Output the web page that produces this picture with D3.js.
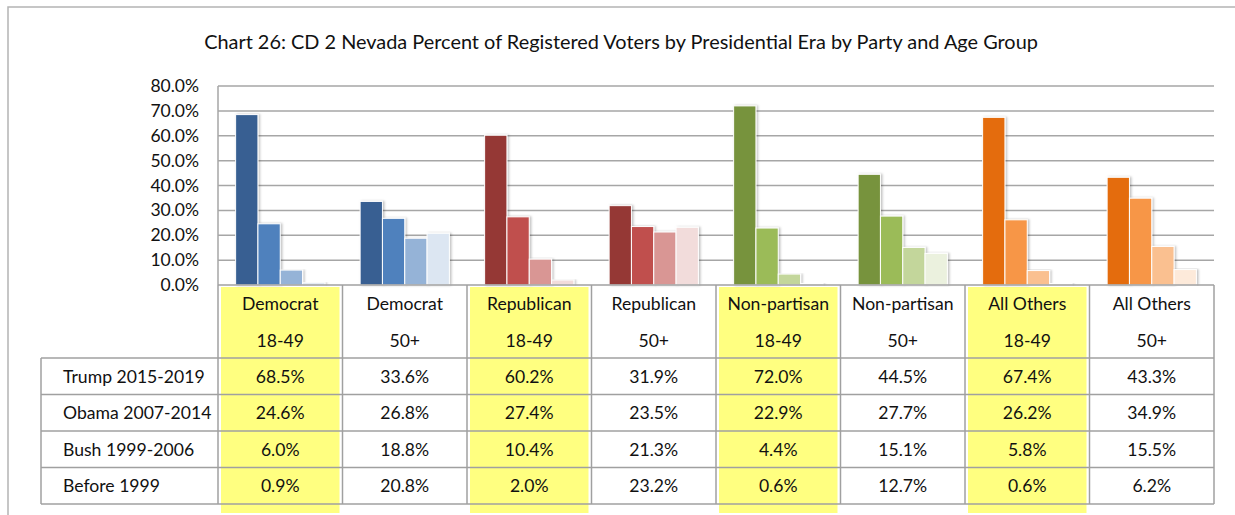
<!DOCTYPE html>
<html>
<head>
<meta charset="utf-8">
<script src="https://cdn.jsdelivr.net/npm/d3@7"></script>
<style>
  body { margin: 0; background: #fff; }
  text { font-family: Lato, "Noto Sans", sans-serif; fill: #111; }
</style>
</head>
<body>
<script>
// data
const parties = ['Democrat', 'Democrat', 'Republican', 'Republican', 'Non-partisan', 'Non-partisan', 'All Others', 'All Others'];
const ageGroups = ['18-49', '50+', '18-49', '50+', '18-49', '50+', '18-49', '50+'];
const eras = ['Trump 2015-2019', 'Obama 2007-2014', 'Bush 1999-2006', 'Before 1999'];
const trump = [68.5, 33.6, 60.2, 31.9, 72.0, 44.5, 67.4, 43.3];
const obama = [24.6, 26.8, 27.4, 23.5, 22.9, 27.7, 26.2, 34.9];
const bush = [6.0, 18.8, 10.4, 21.3, 4.4, 15.1, 5.8, 15.5];
const before1999 = [0.9, 20.8, 2.0, 23.2, 0.6, 12.7, 0.6, 6.2];
const yTicks = [0, 10, 20, 30, 40, 50, 60, 70, 80];

const title = 'Chart 26: CD 2 Nevada Percent of Registered Voters by Presidential Era by Party and Age Group';

// shades per party, darkest = Trump era
const partyColors = {
    'Democrat': ['#375F92', '#4F81BD', '#95B3D7', '#DCE6F2'],
    'Republican': ['#953735', '#C0504D', '#D99694', '#F2DCDB'],
    'Non-partisan': ['#77933C', '#9BBB59', '#C3D69B', '#EBF1DE'],
    'All Others': ['#E46C0A', '#F79646', '#FAC090', '#FDEADA']
};

let seriesValues = [trump, obama, bush, before1999];
let columns = parties.map((p, i) => i);

let width = 1235, height = 515;
let plot = {left: 218, right: 1214, top: 86, bottom: 285};
let table = {left: 41, headTop: 285, rowTop: 358, rowH: 36.5};
let cellFont = '17.6px';

let svg = d3.select('body').append('svg')
    .attr('width', width)
    .attr('height', height);

let defs = svg.append('defs');
let shadow = defs.append('filter').attr('id', 'shadow')
    .attr('x', '-20%').attr('y', '-5%').attr('width', '150%').attr('height', '110%');
shadow.append('feDropShadow')
    .attr('dx', 1.5).attr('dy', 0).attr('stdDeviation', 1)
    .attr('flood-color', '#000').attr('flood-opacity', 0.25);

// outer frame
svg.append('path')
    .attr('d', `M8,${height} L8,7 L${width},7`)
    .attr('fill', 'none').attr('stroke', '#b4b4b4').attr('stroke-width', 1.5);

// title
svg.append('text')
    .attr('x', 621).attr('y', 49)
    .attr('text-anchor', 'middle')
    .style('font-size', '19.9px')
    .text(title);

let x0 = d3.scaleBand().domain(columns).range([plot.left, plot.right]).padding(0);
let x1 = d3.scaleBand().domain(d3.range(eras.length)).range([0, x0.bandwidth()])
    .paddingInner(0).paddingOuter(0.79);
let y = d3.scaleLinear().domain([0, 80]).range([plot.bottom, plot.top]);

// yellow highlights behind 18-49 columns
svg.append('g').selectAll('rect')
    .data(columns.filter(c => ageGroups[c] === '18-49'))
    .enter().append('rect')
    .attr('x', c => x0(c) + 3)
    .attr('y', 287)
    .attr('width', x0.bandwidth() - 6)
    .attr('height', 226)
    .attr('fill', '#FFFF80');

// gridlines
let grid = svg.append('g').attr('class', 'grid');
grid.selectAll('line').data(yTicks.filter(t => t > 0)).enter().append('line')
    .attr('x1', plot.left).attr('x2', plot.right)
    .attr('y1', d => y(d)).attr('y2', d => y(d))
    .attr('stroke', '#a6a6a6').attr('stroke-width', 1.5);
svg.append('line')
    .attr('x1', plot.left).attr('x2', plot.left)
    .attr('y1', plot.top).attr('y2', plot.bottom)
    .attr('stroke', '#a6a6a6').attr('stroke-width', 1.5);

// y axis labels
let yAxis = d3.axisLeft(y).tickValues(yTicks)
    .tickFormat(d => d3.format('.1f')(d) + '%')
    .tickSize(0).tickPadding(19);
svg.append('g')
    .attr('transform', `translate(${plot.left},0)`)
    .call(yAxis)
    .call(g => g.select('.domain').remove())
    .selectAll('text')
    .style('font-size', '17.5px')
    .style('font-family', 'Lato, "Noto Sans", sans-serif')
    .attr('fill', '#111');

// bars
let groups = svg.append('g').selectAll('g.col')
    .data(columns).enter().append('g')
    .attr('class', 'col')
    .attr('transform', c => `translate(${x0(c)},0)`);

groups.selectAll('rect')
    .data(c => seriesValues.map((vals, s) => ({c, s, v: vals[c]})))
    .enter().append('rect')
    .attr('x', d => x1(d.s))
    .attr('y', d => y(d.v))
    .attr('width', x1.bandwidth())
    .attr('height', d => y(0) - y(d.v))
    .attr('fill', d => partyColors[parties[d.c]][d.s])
    .attr('stroke', '#fff').attr('stroke-width', 1)
    .attr('filter', 'url(#shadow)');

// data table
let lineColor = '#a0a0a0';
let tbl = svg.append('g').attr('class', 'table');
let nRows = eras.length;
let tableBottom = table.rowTop + nRows * table.rowH;

// axis line / header top
tbl.append('line')
    .attr('x1', plot.left).attr('x2', plot.right)
    .attr('y1', table.headTop).attr('y2', table.headTop)
    .attr('stroke', lineColor).attr('stroke-width', 1.5);

// horizontal row lines
tbl.selectAll('line.h').data(d3.range(nRows + 1)).enter().append('line')
    .attr('class', 'h')
    .attr('x1', table.left).attr('x2', plot.right)
    .attr('y1', i => table.rowTop + i * table.rowH)
    .attr('y2', i => table.rowTop + i * table.rowH)
    .attr('stroke', lineColor).attr('stroke-width', 1.5);

// vertical column lines
let colEdges = columns.map(c => x0(c)).concat([plot.right]);
tbl.selectAll('line.v').data(colEdges).enter().append('line')
    .attr('class', 'v')
    .attr('x1', d => d).attr('x2', d => d)
    .attr('y1', table.headTop).attr('y2', tableBottom)
    .attr('stroke', lineColor).attr('stroke-width', 1.5);
tbl.append('line')
    .attr('x1', table.left).attr('x2', table.left)
    .attr('y1', table.rowTop).attr('y2', tableBottom)
    .attr('stroke', lineColor).attr('stroke-width', 1.5);

// header text
let cx = c => x0(c) + x0.bandwidth() / 2;
tbl.selectAll('text.party').data(columns).enter().append('text')
    .attr('x', cx).attr('y', 303)
    .attr('text-anchor', 'middle').attr('dominant-baseline', 'central')
    .style('font-size', cellFont)
    .text(c => parties[c]);
tbl.selectAll('text.age').data(columns).enter().append('text')
    .attr('x', cx).attr('y', 340)
    .attr('text-anchor', 'middle').attr('dominant-baseline', 'central')
    .style('font-size', cellFont)
    .text(c => ageGroups[c]);

// rows
let rows = tbl.selectAll('g.row').data(eras).enter().append('g')
    .attr('class', 'row')
    .attr('transform', (d, i) => `translate(0,${table.rowTop + i * table.rowH + table.rowH / 2})`);
rows.append('text')
    .attr('x', 63).attr('y', 0)
    .attr('dominant-baseline', 'central')
    .style('font-size', cellFont)
    .text(d => d);
rows.each(function(d, i) {
    d3.select(this).selectAll('text.val').data(seriesValues[i]).enter().append('text')
        .attr('class', 'val')
        .attr('x', (v, c) => cx(c)).attr('y', 0)
        .attr('text-anchor', 'middle').attr('dominant-baseline', 'central')
        .style('font-size', cellFont)
        .text(v => d3.format('.1f')(v) + '%');
});
</script>
</body>
</html>
